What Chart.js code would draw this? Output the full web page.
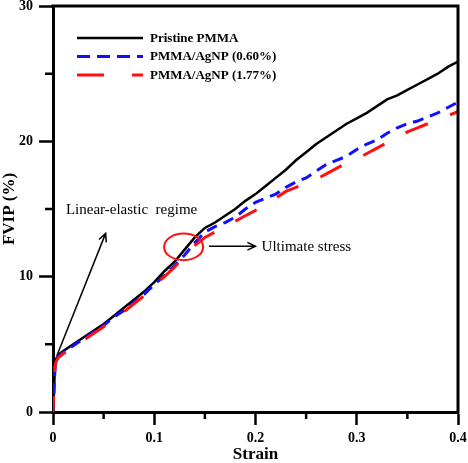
<!DOCTYPE html>
<html>
<head>
<meta charset="utf-8">
<script src="https://cdn.jsdelivr.net/npm/chart.js@4.4.1/dist/chart.umd.min.js"></script>
<style>
  html, body { margin: 0; padding: 0; background: #fff; }
  #c { display: block; }
</style>
</head>
<body>
<canvas id="c" width="468" height="463" style="width:468px;height:463px"></canvas>
<script>
// strain grid shared by all three curves
var strain = [0, 0.001, 0.002, 0.003, 0.005,
  0.01, 0.02, 0.03, 0.04, 0.05, 0.06, 0.07, 0.08, 0.09, 0.10,
  0.11, 0.12, 0.13, 0.14, 0.15, 0.16, 0.17, 0.18, 0.19, 0.20,
  0.21, 0.22, 0.23, 0.24, 0.25, 0.26, 0.27, 0.28, 0.29, 0.30,
  0.31, 0.32, 0.33, 0.34, 0.35, 0.36, 0.37, 0.38, 0.39, 0.40];

var fvipPristine = [0, 1.5, 3.5, 3.9, 4.2,
  4.5, 5.0, 5.5, 6.0, 6.5, 7.1, 7.7, 8.3, 8.9, 9.6,
  10.4, 11.1, 12.0, 12.9, 13.6, 14.0, 14.5, 15.0, 15.6, 16.1,
  16.7, 17.3, 17.9, 18.6, 19.2, 19.8, 20.3, 20.8, 21.3, 21.7,
  22.1, 22.6, 23.1, 23.4, 23.8, 24.2, 24.6, 25.0, 25.5, 25.9];

var fvipAg060 = [0, 1.5, 3.3, 3.8, 4.1,
  4.4, 4.9, 5.4, 5.9, 6.4, 7.0, 7.5, 8.1, 8.7, 9.4,
  10.1, 10.8, 11.6, 12.5, 13.3, 13.7, 14.0, 14.4, 15.0, 15.5,
  15.8, 16.1, 16.6, 17.0, 17.3, 17.8, 18.3, 18.6, 18.9, 19.4,
  19.8, 20.1, 20.6, 21.0, 21.3, 21.5, 21.8, 22.1, 22.5, 22.9];

var fvipAg177 = [0, 1.8, 3.4, 3.7, 4.0,
  4.3, 4.8, 5.3, 5.8, 6.3, 6.8, 7.4, 8.0, 8.6, 9.3,
  10.0, 10.7, 11.5, 12.3, 12.9, 13.3, 13.7, 14.1, 14.5, 14.9,
  15.3, 15.8, 16.3, 16.6, 16.9, 17.2, 17.6, 18.0, 18.4, 18.7,
  19.1, 19.5, 19.9, 20.3, 20.7, 21.0, 21.3, 21.6, 21.9, 22.2];

var seriesNames = ['Pristine PMMA', 'PMMA/AgNP (0.60%)', 'PMMA/AgNP (1.77%)'];

var xTickValues = [0, 0.05, 0.1, 0.15, 0.2, 0.25, 0.3, 0.35, 0.4];
var xTickLabels = ['0', '', '0.1', '', '0.2', '', '0.3', '', '0.4'];
var yTickValues = [0, 5, 10, 15, 20, 25, 30];
var yTickLabels = ['0', '', '10', '', '20', '', '30'];

// annotation anchors, in data units
var elasticArrow = [[0.004, 4.2], [0.052, 13.2]];
var elasticText = [0.0128, 14.95];
var ultimateCircle = [0.129, 12.2];
var ultimateArrow = [[0.154, 12.25], [0.2, 12.25]];
var ultimateText = [0.206, 12.2];

var SERIF = "'Liberation Serif', 'Times New Roman', serif";
var STYLES = [
  { color: '#000000', width: 2.5, dash: [], offset: 0 },
  { color: '#1010ff', width: 3, dash: [11, 7], offset: 0 },
  { color: '#ff1010', width: 3, dash: [24, 24], offset: 8 }
];

function pts(ys) {
  return strain.map(function (x, i) { return { x: x, y: ys[i] }; });
}

function arrow(ctx, x1, y1, x2, y2, head) {
  var a = Math.atan2(y2 - y1, x2 - x1);
  ctx.beginPath();
  ctx.moveTo(x1, y1);
  ctx.lineTo(x2, y2);
  ctx.moveTo(x2 - head * Math.cos(a - 0.45), y2 - head * Math.sin(a - 0.45));
  ctx.lineTo(x2, y2);
  ctx.lineTo(x2 - head * Math.cos(a + 0.45), y2 - head * Math.sin(a + 0.45));
  ctx.stroke();
}

// no extra room for tick-label overflow: the frame is placed by layout.padding
function noOverflow(s) {
  s.paddingTop = 0; s.paddingBottom = 0; s.paddingLeft = 0; s.paddingRight = 0;
}

var decorPlugin = {
  id: 'decor',
  afterDraw: function (chart) {
    var ctx = chart.ctx, ca = chart.chartArea;
    var xs = chart.scales.x, ys = chart.scales.y;
    ctx.save();
    ctx.strokeStyle = '#000';
    ctx.lineCap = 'butt';

    // frame top + right
    ctx.lineWidth = 3;
    ctx.beginPath();
    ctx.moveTo(ca.left - 1.5, ca.top);
    ctx.lineTo(ca.right, ca.top);
    ctx.lineTo(ca.right, ca.bottom + 1.5);
    ctx.stroke();

    // minor ticks
    ctx.lineWidth = 2.5;
    ctx.beginPath();
    yTickValues.forEach(function (v, i) {
      if (yTickLabels[i]) return;
      var p = ys.getPixelForValue(v);
      ctx.moveTo(ca.left, p); ctx.lineTo(ca.left - 8, p);
    });
    xTickValues.forEach(function (v, i) {
      if (xTickLabels[i]) return;
      var p = xs.getPixelForValue(v);
      ctx.moveTo(p, ca.bottom); ctx.lineTo(p, ca.bottom + 7);
    });
    ctx.stroke();

    // legend
    var ly = [38, 56.5, 75];
    ctx.font = 'bold 13px ' + SERIF;
    ctx.textBaseline = 'middle';
    ctx.textAlign = 'left';
    STYLES.forEach(function (s, i) {
      ctx.strokeStyle = s.color;
      ctx.lineWidth = s.width;
      ctx.setLineDash(i === 2 ? [27, 28] : (i === 1 ? [13, 7] : []));
      ctx.beginPath();
      ctx.moveTo(77, ly[i]); ctx.lineTo(143, ly[i]);
      ctx.stroke();
      ctx.setLineDash([]);
      ctx.fillStyle = '#000';
      ctx.fillText(seriesNames[i], 150, ly[i] + 0.5);
    });

    // annotations
    ctx.strokeStyle = '#000';
    ctx.lineWidth = 1.5;
    arrow(ctx, xs.getPixelForValue(elasticArrow[0][0]), ys.getPixelForValue(elasticArrow[0][1]),
      xs.getPixelForValue(elasticArrow[1][0]), ys.getPixelForValue(elasticArrow[1][1]), 9);
    arrow(ctx, xs.getPixelForValue(ultimateArrow[0][0]), ys.getPixelForValue(ultimateArrow[0][1]),
      xs.getPixelForValue(ultimateArrow[1][0]), ys.getPixelForValue(ultimateArrow[1][1]), 9);

    ctx.font = '15px ' + SERIF;
    ctx.fillStyle = '#000';
    ctx.fillText('Linear-elastic  regime', xs.getPixelForValue(elasticText[0]), ys.getPixelForValue(elasticText[1]));
    ctx.fillText('Ultimate stress', xs.getPixelForValue(ultimateText[0]), ys.getPixelForValue(ultimateText[1]));

    ctx.strokeStyle = '#ff1010';
    ctx.lineWidth = 2;
    ctx.beginPath();
    ctx.ellipse(xs.getPixelForValue(ultimateCircle[0]), ys.getPixelForValue(ultimateCircle[1]), 19.5, 13.3, 0, 0, Math.PI * 2);
    ctx.stroke();
    ctx.restore();
  }
};

new Chart(document.getElementById('c'), {
  type: 'line',
  data: {
    datasets: [
      { label: seriesNames[0], data: pts(fvipPristine), order: 3 },
      { label: seriesNames[1], data: pts(fvipAg060), order: 2 },
      { label: seriesNames[2], data: pts(fvipAg177), order: 1 }
    ].map(function (d, i) {
      d.borderColor = STYLES[i].color;
      d.borderWidth = STYLES[i].width;
      d.borderDash = STYLES[i].dash;
      d.borderDashOffset = STYLES[i].offset;
      d.pointRadius = 0;
      d.tension = 0;
      d.fill = false;
      return d;
    })
  },
  options: {
    responsive: false,
    animation: false,
    layout: { padding: { top: 6, right: 10, left: 0, bottom: 0 } },
    plugins: { legend: { display: false }, tooltip: { enabled: false } },
    scales: {
      x: {
        type: 'linear', min: 0, max: 0.4,
        afterBuildTicks: function (s) { s.ticks = xTickValues.map(function (v) { return { value: v }; }); },
        afterFit: function (s) { s.height = 51; noOverflow(s); },
        ticks: {
          autoSkip: false, maxRotation: 0, padding: 5, color: '#000',
          font: { family: SERIF, size: 14, weight: 'bold' },
          callback: function (v, i) { return xTickLabels[i]; }
        },
        grid: {
          drawOnChartArea: false, drawTicks: true, tickLength: 13, tickWidth: 2.5,
          tickColor: function (c) { return xTickLabels[c.index] ? '#000' : 'rgba(0,0,0,0)'; }
        },
        border: { display: true, color: '#000', width: 3 },
        title: {
          display: true, text: 'Strain', color: '#000', padding: 0,
          font: { family: SERIF, size: 17, weight: 'bold', lineHeight: 1.0 }
        }
      },
      y: {
        type: 'linear', min: 0, max: 30,
        afterBuildTicks: function (s) { s.ticks = yTickValues.map(function (v) { return { value: v }; }); },
        afterFit: function (s) { s.width = 53; noOverflow(s); },
        ticks: {
          autoSkip: false, padding: 6, color: '#000',
          font: { family: SERIF, size: 14, weight: 'bold' },
          callback: function (v, i) { return yTickLabels[i]; }
        },
        grid: {
          drawOnChartArea: false, drawTicks: true, tickLength: 14, tickWidth: 2.5,
          tickColor: function (c) { return yTickLabels[c.index] ? '#000' : 'rgba(0,0,0,0)'; }
        },
        border: { display: true, color: '#000', width: 3 },
        title: {
          display: true, text: 'FVIP (%)', color: '#000', padding: { top: 1, bottom: 0 },
          font: { family: SERIF, size: 17, weight: 'bold', lineHeight: 1.0 }
        }
      }
    }
  },
  plugins: [decorPlugin]
});
</script>
</body>
</html>
